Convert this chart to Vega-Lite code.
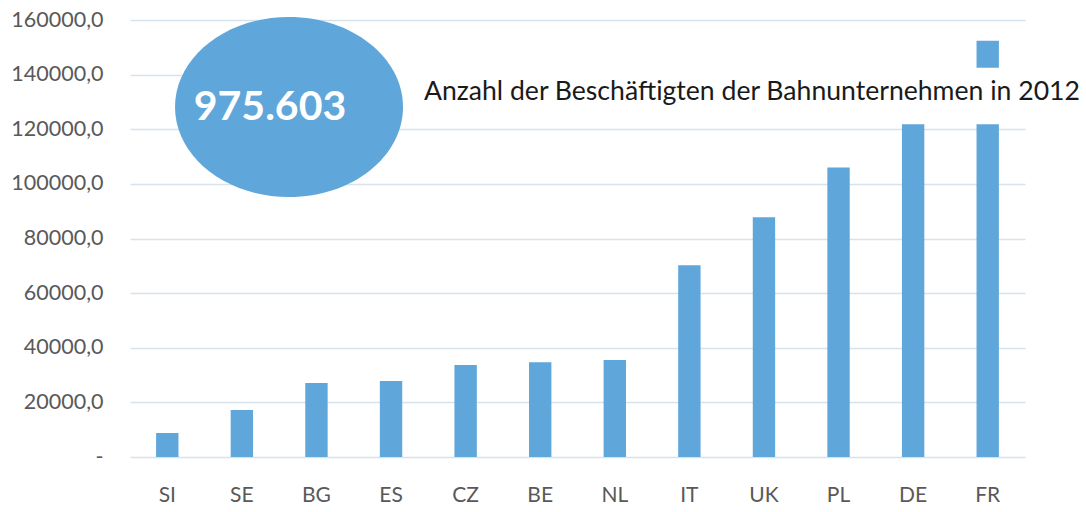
{
  "$schema": "https://vega.github.io/schema/vega-lite/v6.json",
  "width": 895,
  "height": 437,
  "autosize": {"type": "none"},
  "padding": {"left": 130, "top": 20, "right": 61, "bottom": 55},
  "background": "white",
  "config": {
    "view": {"stroke": null},
    "font": "Lato",
    "axisY": {
      "grid": true, "gridColor": "#d6e2ec", "gridWidth": 1.5,
      "domain": false, "ticks": false,
      "labelFont": "Lato", "labelFontSize": 21.5, "labelColor": "#595959",
      "labelPadding": 27, "labelOverlap": false
    },
    "axisX": {
      "grid": false, "domain": false, "ticks": false,
      "labelFont": "Lato", "labelFontSize": 21, "labelColor": "#595959",
      "labelPadding": 27, "labelAngle": 0
    }
  },
  "resolve": {"scale": {"x": "independent"}},
  "layer": [
    {
      "data": {"values": [
        {"land": "SI", "beschaeftigte": 8800},
        {"land": "SE", "beschaeftigte": 17200},
        {"land": "BG", "beschaeftigte": 27100},
        {"land": "ES", "beschaeftigte": 27800},
        {"land": "CZ", "beschaeftigte": 33700},
        {"land": "BE", "beschaeftigte": 34700},
        {"land": "NL", "beschaeftigte": 35500},
        {"land": "IT", "beschaeftigte": 70200},
        {"land": "UK", "beschaeftigte": 87800},
        {"land": "PL", "beschaeftigte": 106000},
        {"land": "DE", "beschaeftigte": 132000},
        {"land": "FR", "beschaeftigte": 152400}
      ]},
      "mark": {"type": "bar", "color": "#5fa6da"},
      "encoding": {
        "x": {"field": "land", "type": "nominal", "sort": null, "title": null,
              "scale": {"paddingInner": 0.7, "paddingOuter": 0.35}},
        "y": {"field": "beschaeftigte", "type": "quantitative", "title": null,
              "scale": {"domain": [0, 160000], "nice": false},
              "axis": {"values": [0, 20000, 40000, 60000, 80000, 100000, 120000, 140000, 160000],
                       "labelExpr": "datum.value == 0 ? '-' : replace(format(datum.value, '.1f'), '.', ',')"}}
      }
    },
    {
      "data": {"values": [{"box": "title"}]},
      "mark": {"type": "rect", "color": "white"},
      "encoding": {
        "x": {"datum": 3.5, "type": "quantitative", "scale": {"domain": [0, 12], "nice": false, "zero": false}, "axis": null},
        "x2": {"datum": 12.9},
        "y": {"datum": 121800, "type": "quantitative", "scale": {"domain": [0, 160000], "nice": false}, "title": null},
        "y2": {"datum": 142530}
      }
    },
    {
      "data": {"values": [{"summe": "975.603"}]},
      "layer": [
        {
          "mark": {"type": "point", "filled": true, "opacity": 1, "color": "#5fa6da",
                   "shape": "M -1 0 A 1 0.79 0 1 1 1 0 A 1 0.79 0 1 1 -1 0 Z", "size": 51984},
          "encoding": {
            "x": {"datum": 2.132, "type": "quantitative", "scale": {"domain": [0, 12], "nice": false, "zero": false}, "axis": null},
            "y": {"datum": 128150, "type": "quantitative", "scale": {"domain": [0, 160000], "nice": false}, "title": null}
          }
        },
        {
          "mark": {"type": "text", "color": "white", "font": "Lato", "fontWeight": "bold", "fontSize": 41,
                   "align": "center", "baseline": "middle"},
          "encoding": {
            "x": {"datum": 1.877, "type": "quantitative", "scale": {"domain": [0, 12], "nice": false, "zero": false}, "axis": null},
            "y": {"datum": 127780, "type": "quantitative", "scale": {"domain": [0, 160000], "nice": false}, "title": null},
            "text": {"field": "summe"}
          }
        }
      ]
    },
    {
      "data": {"values": [{"titel": "Anzahl der Beschäftigten der Bahnunternehmen in 2012"}]},
      "mark": {"type": "text", "color": "#1a1a1a", "font": "Lato", "fontSize": 26.6,
               "align": "left", "baseline": "alphabetic"},
      "encoding": {
        "x": {"datum": 3.942, "type": "quantitative", "scale": {"domain": [0, 12], "nice": false, "zero": false}, "axis": null},
        "y": {"datum": 130700, "type": "quantitative", "scale": {"domain": [0, 160000], "nice": false}, "title": null},
        "text": {"field": "titel"}
      }
    }
  ]
}
